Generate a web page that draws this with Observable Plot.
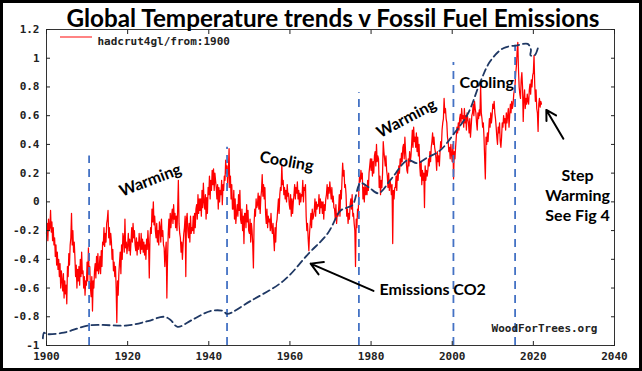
<!DOCTYPE html>
<html><head><meta charset="utf-8">
<script src="https://cdn.jsdelivr.net/npm/d3@7"></script>
<script src="https://cdn.jsdelivr.net/npm/@observablehq/plot@0.6"></script>
<style>html,body{margin:0;padding:0;background:#fff;} #chart{width:642px;height:371px;overflow:hidden;}</style>
</head><body><div id="chart"></div>
<script>
// HadCRUT4 global anomaly: one row per year, six readings per year
const startYear = 1900;
const readingsPerYear = 6;
const tempRows = [
[-0.22,-0.15,-0.27,-0.12,-0.20,-0.18],
[-0.06,-0.21,-0.14,-0.27,-0.18,-0.30],
[-0.25,-0.38,-0.30,-0.44,-0.35,-0.47],
[-0.40,-0.52,-0.43,-0.60,-0.48,-0.55],
[-0.62,-0.50,-0.67,-0.55,-0.64,-0.58],
[-0.71,-0.45,-0.52,-0.36,-0.44,-0.30],
[-0.25,-0.08,-0.30,-0.20,-0.35,-0.28],
[-0.38,-0.52,-0.44,-0.60,-0.47,-0.55],
[-0.45,-0.58,-0.40,-0.52,-0.35,-0.50],
[-0.48,-0.60,-0.52,-0.65,-0.55,-0.58],
[-0.42,-0.55,-0.32,-0.50,-0.45,-0.60],
[-0.66,-0.52,-0.76,-0.55,-0.60,-0.48],
[-0.43,-0.53,-0.38,-0.48,-0.36,-0.50],
[-0.46,-0.38,-0.50,-0.34,-0.45,-0.28],
[-0.30,-0.18,-0.31,-0.22,-0.28,-0.15],
[-0.12,-0.06,-0.25,-0.18,-0.30,-0.22],
[-0.28,-0.40,-0.33,-0.48,-0.42,-0.52],
[-0.45,-0.60,-0.84,-0.55,-0.65,-0.50],
[-0.42,-0.35,-0.50,-0.30,-0.40,-0.22],
[-0.25,-0.35,-0.12,-0.32,-0.28,-0.36],
[-0.30,-0.22,-0.34,-0.26,-0.37,-0.28],
[-0.18,-0.28,-0.15,-0.25,-0.20,-0.30],
[-0.34,-0.25,-0.37,-0.28,-0.33,-0.22],
[-0.30,-0.36,-0.22,-0.33,-0.26,-0.35],
[-0.28,-0.37,-0.30,-0.40,-0.26,-0.33],
[-0.20,-0.30,-0.53,-0.25,-0.18,-0.22],
[-0.05,-0.14,0.00,-0.16,-0.10,-0.20],
[-0.25,-0.15,-0.28,-0.20,-0.30,-0.14],
[-0.18,-0.28,-0.12,-0.24,-0.20,-0.30],
[-0.32,-0.45,-0.35,-0.28,-0.67,-0.40],
[-0.22,-0.12,-0.25,-0.08,-0.18,-0.10],
[-0.05,-0.15,-0.02,-0.12,-0.08,-0.18],
[-0.10,-0.20,-0.05,0.15,-0.15,-0.22],
[-0.25,-0.35,-0.28,-0.40,-0.30,-0.22],
[-0.18,-0.10,-0.52,-0.12,-0.08,-0.20],
[-0.25,-0.15,-0.28,-0.10,-0.22,-0.18],
[-0.20,-0.10,-0.22,-0.08,-0.18,-0.05],
[-0.02,-0.12,0.05,-0.08,0.02,-0.06],
[0.02,-0.10,0.08,-0.04,0.13,0.00],
[-0.05,0.05,-0.12,0.03,-0.08,0.10],
[0.05,0.18,0.02,0.15,0.08,0.22],
[0.12,0.23,0.08,0.20,0.15,0.10],
[0.02,0.12,-0.05,0.10,0.00,0.08],
[0.05,0.15,-0.02,0.12,0.08,0.18],
[0.15,0.29,0.20,0.25,0.10,0.22],
[0.37,0.10,0.18,0.02,0.12,-0.05],
[-0.05,0.08,-0.12,0.02,-0.15,-0.08],
[-0.02,-0.10,0.05,-0.06,0.08,-0.12],
[-0.15,-0.05,-0.20,-0.10,-0.29,-0.08],
[-0.08,-0.18,-0.02,-0.14,-0.06,-0.20],
[-0.22,-0.12,-0.28,-0.15,-0.20,-0.30],
[-0.46,-0.15,-0.05,-0.10,0.02,-0.04],
[-0.02,0.06,-0.05,0.04,-0.08,0.03],
[0.08,0.19,0.04,0.12,0.02,0.10],
[-0.08,-0.15,-0.05,-0.18,-0.10,-0.14],
[-0.12,-0.20,-0.08,-0.18,-0.22,-0.15],
[-0.25,-0.34,-0.18,-0.28,-0.15,-0.12],
[-0.05,0.02,-0.08,0.05,0.10,0.08],
[0.26,0.12,0.15,0.05,0.10,0.02],
[0.08,0.00,0.12,0.04,0.06,-0.02],
[-0.05,0.05,-0.10,0.02,-0.08,0.00],
[0.05,0.12,0.02,0.10,0.06,0.14],
[0.02,0.08,-0.02,0.06,0.00,0.05],
[0.04,0.15,0.00,0.10,0.08,0.12],
[-0.10,-0.20,-0.15,-0.26,-0.34,-0.22],
[-0.15,-0.08,-0.18,-0.05,-0.12,-0.10],
[-0.06,0.02,-0.10,0.00,-0.05,-0.02],
[-0.03,0.05,-0.08,0.02,-0.04,0.00],
[-0.08,0.00,-0.12,-0.02,-0.06,0.02],
[0.05,0.12,0.02,0.10,0.06,0.14],
[0.08,0.02,0.10,0.00,0.04,-0.04],
[-0.05,-0.12,-0.02,-0.15,-0.08,-0.10],
[-0.05,0.05,-0.10,0.08,0.02,0.15],
[0.27,0.18,0.22,0.10,0.12,0.05],
[-0.10,-0.05,-0.15,-0.08,-0.12,-0.02],
[0.02,-0.05,0.05,-0.10,-0.08,-0.15],
[-0.20,-0.45,-0.12,-0.18,-0.05,-0.10],
[0.10,0.18,0.14,0.22,0.16,0.20],
[0.02,0.10,0.00,0.12,0.05,0.10],
[0.05,0.15,0.08,0.20,0.25,0.30],
[0.22,0.30,0.18,0.28,0.20,0.32],
[0.35,0.25,0.40,0.28,0.32,0.30],
[0.10,0.18,0.05,0.15,0.10,0.20],
[0.42,0.35,0.30,0.25,0.32,0.22],
[0.18,0.10,0.20,0.08,0.15,0.12],
[0.05,0.12,-0.29,0.08,0.02,0.10],
[0.10,0.18,0.08,0.22,0.15,0.25],
[0.20,0.30,0.25,0.34,0.28,0.38],
[0.40,0.30,0.45,0.35,0.28,0.22],
[0.20,0.30,0.25,0.35,0.28,0.32],
[0.40,0.50,0.38,0.52,0.42,0.45],
[0.38,0.48,0.35,0.45,0.32,0.40],
[0.25,0.18,0.28,0.12,0.22,0.15],
[0.20,-0.04,0.25,0.15,0.22,0.18],
[0.22,0.30,0.25,0.35,0.28,0.38],
[0.42,0.48,0.40,0.45,0.38,0.35],
[0.30,0.22,0.35,0.28,0.32,0.25],
[0.35,0.42,0.38,0.50,0.55,0.58],
[0.72,0.62,0.65,0.58,0.55,0.45],
[0.42,0.35,0.38,0.30,0.40,0.33],
[0.28,0.40,0.16,0.35,0.30,0.38],
[0.45,0.52,0.48,0.55,0.50,0.58],
[0.61,0.55,0.65,0.58,0.60,0.52],
[0.65,0.55,0.60,0.50,0.62,0.58],
[0.55,0.48,0.58,0.45,0.52,0.60],
[0.62,0.68,0.60,0.70,0.65,0.62],
[0.55,0.50,0.62,0.58,0.64,0.60],
[0.81,0.62,0.58,0.52,0.55,0.45],
[0.30,0.16,0.45,0.40,0.48,0.42],
[0.50,0.58,0.52,0.62,0.55,0.60],
[0.68,0.65,0.70,0.62,0.58,0.52],
[0.45,0.40,0.52,0.48,0.55,0.42],
[0.38,0.45,0.55,0.52,0.60,0.55],
[0.58,0.50,0.62,0.55,0.60,0.65],
[0.52,0.60,0.68,0.62,0.70,0.65],
[0.68,0.75,0.78,0.82,0.90,0.95],
[1.05,1.11,0.92,0.80,0.75,0.72],
[0.85,0.90,0.80,0.56,0.72,0.78],
[0.65,0.72,0.68,0.75,0.70,0.68],
[0.78,0.82,0.75,0.85,0.80,0.88],
[0.90,1.02,0.82,0.70,0.78,0.65],
[0.62,0.49,0.68,0.72,0.66,0.70],
[0.68]
];

// Emissions CO2 curve (drawn on the temperature axis)
const emissionYears  = [1899.1,1899.4,1900,1904.3,1910.5,1920,1925,1928.9,1930.5,1932.3,1936,1940.4,1943.6,1944.5,1950.3,1958.4,1964.6,1969.3,1972.5,1974.1,1975.5,1977.4,1979.5,1981.8,1985,1989,1991.4,1994,1997.1,2000.3,2003.8,2007,2009.4,2012.6,2016.1,2018.6,2019.4,2019.3,2020.3,2021.3];
const emissionValues = [-0.95,-0.91,-0.92,-0.91,-0.86,-0.86,-0.83,-0.80,-0.82,-0.87,-0.82,-0.76,-0.76,-0.78,-0.69,-0.55,-0.36,-0.22,-0.06,-0.04,-0.02,0.13,0.10,0.06,0.16,0.29,0.27,0.31,0.36,0.47,0.61,0.84,0.98,1.07,1.09,1.10,1.06,1.02,1.02,1.09];

// Period boundaries (blue dashed verticals)
const boundaryYears = [1910.5,1944.5,1977,2000.3,2015.5];
const boundaryTops  = [0.32,0.38,0.76,0.97,1.09];

// Axis ticks
const xTicks = [1900,1920,1940,1960,1980,2000,2020,2040];
const yTicks = [-1,-0.8,-0.6,-0.4,-0.2,0,0.2,0.4,0.6,0.8,1,1.2];

// Annotations (anchored in data coordinates)
const phaseLabels = ["Warming","Cooling","Warming","Cooling"];
const phaseYears  = [1925.6,1959.2,1988.7,2008.5];
const phaseValues = [0.15,0.28,0.58,0.83];
const phaseAngles = [-21,10,-28,0];
const noteTexts   = ["Emissions CO2","Step\nWarming\nSee Fig 4"];
const noteYears   = [1982.1,2030.9];
const noteValues  = [-0.61,0.05];
const noteAnchors = ["start","middle"];
const arrowFrom   = [[1980.6,-0.62],[2027.4,0.44]];
const arrowTo     = [[1965.1,-0.43],[2023.2,0.64]];

const titleText  = "Global Temperature trends v Fossil Fuel Emissions";
const legendText = "hadcrut4gl/from:1900";
const creditText = "WoodForTrees.org";

// Build tables
const temps = tempRows.flatMap((row, i) => row.map((v, j) => ({year: startYear + i + j / readingsPerYear, value: v})));
const emissions = emissionYears.map((y, i) => ({year: y, value: emissionValues[i]}));
const boundaries = boundaryYears.map((y, i) => ({year: y, top: boundaryTops[i]}));
const phases = phaseLabels.map((t, i) => ({text: t, year: phaseYears[i], value: phaseValues[i], angle: phaseAngles[i]}));
const notes = noteTexts.map((t, i) => ({text: t, year: noteYears[i], value: noteValues[i], anchor: noteAnchors[i]}));
const arrows = arrowFrom.map((f, i) => ({x1: f[0], y1: f[1], x2: arrowTo[i][0], y2: arrowTo[i][1]}));

const mono = "'DejaVu Sans Mono', monospace";
const sans = "Lato, 'Open Sans', sans-serif";
const fmt = d => String(Math.round(d * 10) / 10);

const chart = Plot.plot({
  width: 642, height: 371,
  marginLeft: 46, marginRight: 28, marginTop: 29, marginBottom: 26,
  x: {domain: [1900, 2040]},
  y: {domain: [-1, 1.2]},
  style: {background: "#fff", fontFamily: mono, fontSize: "11px", fontWeight: "bold", color: "#222"},
  marks: [
    Plot.line(temps, {x: "year", y: "value", stroke: "#ff0000", strokeWidth: 1.25}),
    Plot.ruleX(boundaries, {x: "year", y1: -1, y2: "top", stroke: "#4472c4", strokeWidth: 1.8, strokeDasharray: "8,6"}),
    Plot.line(emissions, {x: "year", y: "value", stroke: "#1f3864", strokeWidth: 1.8, strokeDasharray: "7,4", curve: "catmull-rom"}),
    Plot.frame({stroke: "#333", strokeWidth: 1}),
    Plot.axisX({anchor: "bottom", ticks: xTicks, tickSize: -4, tickPadding: 11, tickFormat: d => String(d), label: null}),
    Plot.axisX({anchor: "top", ticks: xTicks, tickSize: -4, tickFormat: () => "", label: null}),
    Plot.axisY({anchor: "left", ticks: yTicks, tickSize: -4, tickPadding: 11, tickFormat: fmt, label: null}),
    Plot.axisY({anchor: "right", ticks: yTicks, tickSize: -4, tickFormat: () => "", label: null}),
    Plot.text(phases, {x: "year", y: "value", text: "text", rotate: "angle", fontFamily: sans, fontWeight: "bold", fontSize: 16, fill: "#000"}),
    Plot.text(notes, {x: "year", y: "value", text: "text", textAnchor: "start", filter: d => d.anchor === "start", fontFamily: sans, fontWeight: "bold", fontSize: 16, fill: "#000"}),
    Plot.text(notes, {x: "year", y: "value", text: "text", textAnchor: "middle", filter: d => d.anchor === "middle", lineHeight: 1.25, fontFamily: sans, fontWeight: "bold", fontSize: 16, fill: "#000"}),
    Plot.arrow(arrows, {x1: "x1", y1: "y1", x2: "x2", y2: "y2", stroke: "#000", strokeWidth: 2, headLength: 10}),
    Plot.text([legendText], {frameAnchor: "top-left", dx: 51, dy: 8, text: d => d, textAnchor: "start", fontFamily: mono, fontWeight: "bold", fontSize: 11, fill: "#222"}),
    Plot.text([creditText], {frameAnchor: "bottom-right", dx: -17, dy: -14, text: d => d, textAnchor: "end", fontFamily: mono, fontWeight: "bold", fontSize: 11, fill: "#222"})
  ]
});

document.getElementById("chart").appendChild(chart);
const svg = d3.select(chart);
// legend line sample
svg.append("line").attr("x1", 60).attr("x2", 92).attr("y1", 37).attr("y2", 37)
  .attr("stroke", "#ff5a5a").attr("stroke-width", 1.5);
// title
svg.append("text").attr("x", 333).attr("y", 27).attr("text-anchor", "middle")
  .attr("font-family", "Lato, 'Open Sans', sans-serif").attr("font-weight", "bold").attr("font-size", 25)
  .attr("fill", "#000").attr("textLength", 533).attr("lengthAdjust", "spacingAndGlyphs").text(titleText);
// outer border
svg.append("rect").attr("x", 1.5).attr("y", 1.5).attr("width", 639).attr("height", 368)
  .attr("fill", "none").attr("stroke", "#000").attr("stroke-width", 3);
</script>
</body></html>
